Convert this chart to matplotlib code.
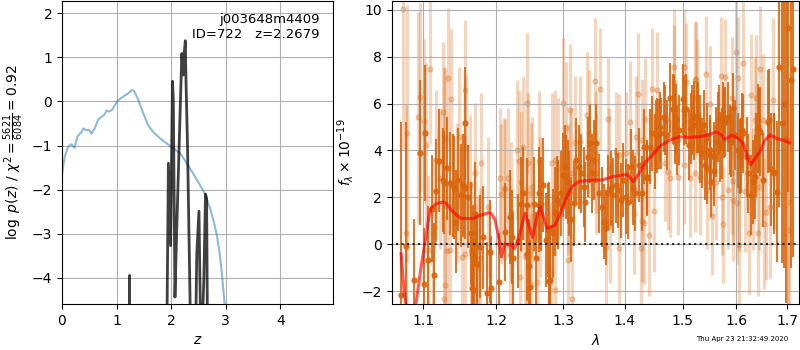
import matplotlib
matplotlib.use('Agg')
import matplotlib.pyplot as pl
import numpy as np

# ---- left panel: redshift fit ----
z_chi = [0.0, 0.05, 0.11, 0.17, 0.23, 0.28, 0.36, 0.39, 0.44, 0.50, 0.54, 0.60, 0.66, 0.72,
         0.77, 0.82, 0.85, 0.91, 0.97, 1.03, 1.12, 1.21, 1.28, 1.32, 1.40, 1.49, 1.58, 1.67,
         1.80, 1.92, 2.04, 2.17, 2.29, 2.41, 2.53, 2.60, 2.66, 2.72, 2.78, 2.84, 2.89, 2.93,
         2.97, 3.01]
chi_scaled = [-1.64, -1.26, -1.03, -0.97, -1.05, -0.80, -0.69, -0.61, -0.65, -0.65, -0.73, -0.61,
              -0.42, -0.35, -0.31, -0.20, -0.23, -0.20, -0.08, 0.03, 0.11, 0.18, 0.26, 0.24, 0.03,
              -0.27, -0.54, -0.69, -0.84, -0.95, -1.07, -1.18, -1.41, -1.65, -1.90, -2.05, -2.24,
              -2.45, -2.72, -3.05, -3.45, -3.90, -4.45, -5.00]

z_pz = [1.200, 1.230, 1.237, 1.244, 1.300, 1.900, 1.925, 1.950, 1.990, 2.025, 2.040, 2.070,
        2.100, 2.196, 2.220, 2.240, 2.260, 2.270, 2.300, 2.360, 2.440, 2.470, 2.510, 2.550,
        2.600, 2.630, 2.650, 2.670, 2.700]
log_pz = [-9.0, -7.0, -3.95, -7.0, -9.0, -9.0, -4.8, -1.40, -3.27, 0.46, 0.03, -4.44,
          -3.00, 1.09, 0.60, 1.09, 1.38, 0.60, -1.00, -5.50, -6.00, -3.45, -2.49, -6.00,
          -4.00, -2.10, -2.20, -6.00, -9.0]

# ---- right panel: 1D spectrum ----
# dark (higher weight) points
wave_a = [1.0710, 1.0778, 1.0882, 1.0960, 1.1013, 1.1026, 1.1066, 1.1111, 1.1137, 1.1165,
          1.1213, 1.1258, 1.1280, 1.1316, 1.1361, 1.1394, 1.1416, 1.1462, 1.1504, 1.1536,
          1.1568, 1.1605, 1.1643, 1.1661, 1.1689, 1.1707, 1.1735, 1.1773, 1.1816, 1.1877,
          1.1911, 1.1933, 1.2040, 1.2127, 1.2200, 1.2234, 1.2322, 1.2363, 1.2395, 1.2446,
          1.2485, 1.2500, 1.2550, 1.2585, 1.2625, 1.2666, 1.2700, 1.2737, 1.2767, 1.2802,
          1.2853, 1.2906, 1.2972, 1.3008, 1.3035, 1.3086, 1.3129, 1.3167, 1.3203, 1.3245,
          1.3289, 1.3326, 1.3352, 1.3396, 1.3433, 1.3460, 1.3486, 1.3519, 1.3574, 1.3616,
          1.3655, 1.3693, 1.3726, 1.3763, 1.3803, 1.3846, 1.3891, 1.3929, 1.3970, 1.4059,
          1.4098, 1.4139, 1.4173, 1.4285, 1.4326, 1.4383, 1.4422, 1.4470, 1.4517, 1.4557,
          1.4597, 1.4622, 1.4680, 1.4720, 1.4780, 1.4826, 1.4857, 1.4897, 1.5005, 1.5054,
          1.5114, 1.5158, 1.5199, 1.5260, 1.5308, 1.5358, 1.5400, 1.5443, 1.5493, 1.5524,
          1.5567, 1.5604, 1.5646, 1.5691, 1.5740, 1.5791, 1.5834, 1.5872, 1.5925, 1.5969,
          1.6035, 1.6078, 1.6132, 1.6227, 1.6275, 1.6324, 1.6375, 1.6422, 1.6467, 1.6520,
          1.6619, 1.6685, 1.6731, 1.6786, 1.6840, 1.6887, 1.7022, 1.7124,
          1.1564, 1.1439, 1.1679, 1.1727, 1.2252, 1.2459, 1.2630, 1.2777, 1.2792, 1.2880,
          1.2916, 1.3040, 1.3087, 1.4012, 1.4239, 1.4376, 1.4530, 1.4577, 1.4665, 1.4841,
          1.4889, 1.4930, 1.5020, 1.5172, 1.5214, 1.5274, 1.5324, 1.5384, 1.5447, 1.5508,
          1.5583, 1.5663, 1.5727, 1.5771, 1.5898, 1.6062, 1.6109, 1.6205, 1.6368, 1.6432,
          1.6630, 1.6730, 1.6930, 1.6980, 1.7070]
flux_a = [-2.18, -0.07, -1.54, 3.90, -1.70, 4.73, -0.66, 1.52, -1.30, 2.28,
          3.56, 2.74, 2.62, 3.24, 2.60, 2.52, 2.42, 2.76, 2.09, 2.52,
          5.18, 2.02, 0.46, -1.85, -1.97, 1.31, -0.85, -0.11, 0.29, -2.10,
          -0.33, -1.85, -1.61, 0.53, 1.17, 0.31, 0.14, 1.71, 2.17, -0.43,
          -0.94, -1.82, 1.71, -0.61, 2.17, 1.71, 2.52, 0.17, 0.60, -1.54,
          0.46, 1.88, 2.17, 2.95, 3.30, 2.66, 1.06, 1.74, 3.59, 3.30,
          3.02, 2.45, 1.81, 3.73, 4.30, 3.02, 3.59, 4.30, 2.17, 1.59,
          0.95, 0.71, 2.19, 2.38, 2.09, 2.52, 2.31, 1.88, 2.74, 1.81,
          3.30, 2.42, 2.17, 2.17, 4.16, 2.85, 4.16, 4.73, 3.94, 4.66,
          5.01, 4.73, 5.30, 4.66, 6.23, 5.76, 4.94, 4.44, 6.18, 5.76,
          4.23, 4.94, 5.47, 5.40, 4.87, 3.88, 3.38, 3.23, 3.80, 2.66,
          3.13, 4.37, 5.01, 4.16, 5.44, 5.23, 5.44, 4.44, 5.80, 4.66,
          4.02, 3.80, 4.73, 3.02, 2.09, 2.66, 3.80, 4.94, 4.80, 2.74,
          5.23, 3.19, 3.02, 2.24, 7.58, 5.18, 9.22, 7.46,
          2.42, 0.95, -0.54, -0.83, -0.61, 1.67, 1.67, -1.57, 0.67, 1.38,
          1.71, 2.88, 2.17, 2.02, 3.38, 2.81, 4.66, 4.70, 5.44, 5.73,
          5.33, 4.87, 5.73, 5.30, 5.09, 5.41, 4.13, 5.09, 4.52, 4.02,
          3.73, 5.30, 4.30, 5.16, 4.37, 3.76, 4.87, 3.73, 2.88, 4.87,
          5.30, 3.09, 6.00, 4.50, 7.00]
err_a = [7.4, 5.3, 2.6, 3.1, 2.4, 2.9, 2.3, 2.3, 2.2, 2.2,
         2.2, 2.2, 2.2, 2.2, 2.2, 2.2, 2.2, 2.2, 2.2, 2.2,
         2.4, 2.2, 2.2, 2.2, 2.2, 2.2, 2.2, 2.2, 2.2, 2.2,
         2.2, 2.2, 2.1, 2.1, 2.0, 2.0, 2.0, 2.0, 2.0, 2.0,
         2.0, 2.0, 2.0, 2.0, 2.0, 2.0, 2.0, 2.0, 2.0, 2.0,
         1.9, 1.9, 1.8, 1.8, 1.8, 1.8, 1.8, 1.8, 1.8, 1.8,
         1.7, 1.7, 1.7, 1.7, 1.7, 1.7, 1.7, 1.7, 1.7, 1.7,
         1.6, 1.6, 1.6, 1.6, 1.6, 1.6, 1.6, 1.6, 1.6, 1.6,
         1.6, 1.6, 1.6, 1.6, 1.6, 1.6, 1.6, 1.6, 1.6, 1.6,
         1.5, 1.5, 1.5, 1.5, 1.5, 1.5, 1.5, 1.5, 1.5, 1.5,
         1.5, 1.5, 1.5, 1.5, 1.5, 1.5, 1.5, 1.5, 1.5, 1.5,
         1.5, 1.5, 1.5, 1.5, 1.5, 1.5, 1.5, 1.5, 1.5, 1.5,
         1.6, 1.6, 1.7, 1.7, 1.7, 1.8, 1.8, 1.9, 1.9, 2.0,
         2.2, 2.4, 2.6, 3.0, 6.0, 6.0, 7.0, 8.0,
         2.2, 2.2, 2.2, 2.2, 2.0, 2.0, 2.0, 2.0, 2.0, 1.9,
         1.9, 1.8, 1.8, 1.6, 1.6, 1.6, 1.5, 1.5, 1.5, 1.5,
         1.5, 1.5, 1.5, 1.5, 1.5, 1.5, 1.5, 1.5, 1.5, 1.5,
         1.5, 1.5, 1.5, 1.5, 1.5, 1.6, 1.6, 1.7, 1.8, 1.8,
         2.2, 2.5, 7.0, 7.0, 8.0]

# pale (lower weight) points
wave_b = [1.0733, 1.0778, 1.0791, 1.0934, 1.0956, 1.1013, 1.1030, 1.1066, 1.1093, 1.1128,
          1.1164, 1.1226, 1.1258, 1.1280, 1.1285, 1.1334, 1.1349, 1.1371, 1.1452, 1.1475,
          1.1522, 1.1559, 1.1581, 1.1629, 1.1651, 1.1699, 1.1745, 1.1792, 1.1886, 1.2054,
          1.2077, 1.2127, 1.2165, 1.2223, 1.2297, 1.2333, 1.2363, 1.2395, 1.2422, 1.2446,
          1.2474, 1.2515, 1.2534, 1.2636, 1.2777, 1.2818, 1.2879, 1.2921, 1.3008, 1.3046,
          1.3077, 1.3113, 1.3120, 1.3149, 1.3192, 1.3273, 1.3380, 1.3406, 1.3500, 1.3584,
          1.3681, 1.3726, 1.3747, 1.3846, 1.3902, 1.3910, 1.4013, 1.4081, 1.4156, 1.4224,
          1.4268, 1.4285, 1.4297, 1.4343, 1.4412, 1.4470, 1.4499, 1.4680, 1.4738, 1.4780,
          1.4839, 1.5018, 1.5054, 1.5126, 1.5218, 1.5249, 1.5260, 1.5321, 1.5432, 1.5440,
          1.5506, 1.5543, 1.5617, 1.5711, 1.5729, 1.5740, 1.5791, 1.5834, 1.5907, 1.5939,
          1.5988, 1.6035, 1.6040, 1.6117, 1.6161, 1.6246, 1.6291, 1.6324, 1.6375, 1.6422,
          1.6453, 1.6520, 1.6530, 1.6571, 1.6651, 1.6719, 1.7022, 1.7030,
          1.4549, 1.4841, 1.5232, 1.5917, 1.6368, 1.4329, 1.4913, 1.5936, 1.6012, 1.6432,
          1.6043, 1.5020, 1.1290, 1.2117, 1.2651, 1.2829, 1.1313, 1.1564, 1.1703, 1.1773,
          1.2204, 1.2459, 1.2601, 1.2880, 1.3071, 1.2510, 1.2351, 1.1276, 1.3529, 1.3736,
          1.4181, 1.3519]
flux_b = [10.03, 0.48, 4.73, 5.41, 6.29, 5.27, 4.23, -0.26, 7.48, 0.46,
          3.59, 2.81, 5.65, 4.56, -1.75, 7.08, -0.23, 6.18, 2.17, 4.56,
          -0.54, 6.58, 4.16, 2.52, -0.29, 3.02, -1.00, 3.45, 1.59, 2.81,
          2.14, 2.34, 2.81, 1.38, 4.02, 3.56, 2.66, 4.16, -0.51, 6.01,
          3.45, 2.17, 2.45, 3.52, -1.61, -1.18, 3.59, 3.23, 6.01, 4.97,
          2.34, 5.73, 3.02, -2.36, 4.37, 4.37, 5.51, 4.73, 6.97, 6.61,
          -0.11, 5.33, 0.95, 3.88, 3.80, -0.18, 3.90, 5.23, 1.34, 6.41,
          -0.18, 1.00, 4.44, 5.33, 0.38, 6.61, 1.42, 3.47, 3.09, 2.81,
          7.55, 7.55, 6.94, 2.81, 3.02, 7.04, 6.25, 2.88, 7.26, 2.31,
          5.98, 1.20, 2.66, 7.18, 2.02, 0.85, 7.12, 2.31, 3.02, 1.88,
          8.22, 7.08, 2.31, 7.75, 2.28, 0.48, 6.37, 2.34, 6.23, 0.48,
          7.46, 5.30, 0.88, 1.38, 1.57, 6.15, 0.60, 1.81,
          6.58, 6.87, 7.00, 6.23, 5.30, 0.91, 2.88, 2.71, 1.77, 2.45,
          -0.04, 3.38, 4.51, 2.38, 1.59, 3.45, -0.29, -0.40, -1.32, -0.61,
          -0.47, -0.54, -1.61, -1.97, -0.68, -1.71, -1.40, -2.36, 3.94, 3.23,
          4.59, 3.02]
err_b = [6.0, 5.5, 5.5, 4.5, 4.0, 3.5, 3.5, 3.2, 3.2, 3.2,
         3.0, 3.0, 3.0, 3.0, 3.0, 3.0, 3.0, 3.0, 3.0, 3.0,
         3.0, 3.0, 3.0, 3.0, 3.0, 3.0, 3.0, 3.0, 3.0, 3.0,
         3.0, 3.0, 3.0, 3.0, 3.0, 3.0, 3.0, 3.0, 3.0, 3.0,
         3.0, 3.0, 3.0, 3.0, 3.0, 3.0, 3.0, 3.0, 2.8, 2.8,
         2.8, 2.8, 2.8, 2.8, 2.8, 2.8, 2.7, 2.7, 2.7, 2.6,
         2.6, 2.6, 2.6, 2.6, 2.6, 2.6, 2.6, 2.6, 2.6, 2.6,
         2.6, 2.6, 2.6, 2.6, 2.6, 2.6, 2.6, 2.5, 2.5, 2.5,
         2.5, 2.5, 2.5, 2.5, 2.5, 2.5, 2.5, 2.5, 2.5, 2.5,
         2.5, 2.5, 2.5, 2.5, 2.5, 2.5, 2.5, 2.5, 2.6, 2.6,
         2.6, 2.6, 2.6, 2.6, 2.6, 2.6, 2.6, 2.6, 2.7, 2.7,
         2.7, 2.8, 2.8, 2.9, 3.0, 3.5, 5.0, 5.0,
         2.5, 2.5, 2.5, 2.6, 2.7, 2.6, 2.5, 2.6, 2.6, 2.7,
         2.6, 2.5, 3.0, 3.0, 3.0, 3.0, 3.0, 3.0, 3.0, 3.0,
         3.0, 3.0, 3.0, 3.0, 2.8, 3.0, 3.0, 3.0, 2.6, 2.6,
         2.6, 2.6]

# best-fit model
wave_model = [1.0710, 1.0748, 1.0800, 1.0860, 1.0904, 1.0969, 1.1013, 1.1066, 1.1102, 1.1167,
              1.1258, 1.1303, 1.1371, 1.1439, 1.1508, 1.1679, 1.1745, 1.1886, 1.1933, 1.1982,
              1.2030, 1.2077, 1.2127, 1.2175, 1.2223, 1.2263, 1.2322, 1.2395, 1.2425, 1.2485,
              1.2534, 1.2600, 1.2650, 1.2700, 1.2752, 1.2828, 1.2879, 1.2956, 1.3061, 1.3140,
              1.3245, 1.3352, 1.3513, 1.3627, 1.3792, 1.3958, 1.4042, 1.4139, 1.4241, 1.4354,
              1.4470, 1.4587, 1.4768, 1.4946, 1.5126, 1.5308, 1.5461, 1.5617, 1.5711, 1.5774,
              1.5869, 1.5907, 1.6035, 1.6132, 1.6210, 1.6275, 1.6359, 1.6457, 1.6556, 1.6656,
              1.6790, 1.6925, 1.7047]
flux_model = [-0.40, -2.00, -3.20, -3.50, -2.50, -0.97, -0.10, 1.05, 1.55, 1.72,
              1.80, 1.75, 1.47, 1.26, 1.10, 1.09, 1.20, 1.34, 1.30, 1.06,
              0.43, -0.54, 0.03, -0.04, 0.00, -0.20, 0.17, 1.03, 1.32, 0.75,
              0.29, 1.17, 1.60, 1.17, 0.68, 0.75, 0.82, 1.32, 2.03, 2.45,
              2.67, 2.71, 2.74, 2.74, 2.88, 2.95, 2.98, 2.67, 3.02, 3.52,
              3.80, 4.16, 4.44, 4.59, 4.56, 4.59, 4.66, 4.80, 4.66, 4.47,
              4.59, 4.66, 4.51, 4.30, 3.73, 3.38, 3.66, 3.95, 4.44, 4.66,
              4.51, 4.44, 4.33]

orange = '#d9650c'

fig = pl.figure(figsize=(8, 3.5), dpi=100)

ax = fig.add_axes([0.0775, 0.131, 0.339, 0.866])
ax.plot(z_chi, chi_scaled, color='tab:blue', alpha=0.5, lw=1.5)
ax.plot(z_pz, log_pz, color='k', alpha=0.75, lw=2)
ax.set_xlim(0, 4.97)
ax.set_ylim(-4.6, 2.28)
ax.set_xticks([0, 1, 2, 3, 4])
ax.grid()
ax.set_xlabel(r'$z$')
ax.set_ylabel(r'$\log\ p(z)$ / $\chi^2=\frac{5621}{6084}=0.92$')
ax.text(0.95, 0.96, 'j003648m4409\nID=722   z=2.2679', ha='right', va='top',
        transform=ax.transAxes, fontsize=9.5)

ax2 = fig.add_axes([0.4896, 0.131, 0.5095, 0.866])
ax2.errorbar(wave_b, flux_b, yerr=err_b, fmt='o', color=orange, alpha=0.27,
             ms=3.5, elinewidth=2.3, zorder=1)
ax2.errorbar(wave_a, flux_a, yerr=err_a, fmt='o', color=orange, alpha=0.88,
             ms=3.5, elinewidth=1.5, zorder=2)
ax2.plot([1.05, 1.75], [0, 0], color='k', linestyle=':', lw=1.5, alpha=0.8, zorder=3)
ax2.plot(wave_model, flux_model, color='r', alpha=0.65, lw=2.2, zorder=4)
ax2.set_xscale('log')
ax2.xaxis.set_major_locator(pl.FixedLocator([1.1, 1.2, 1.3, 1.4, 1.5, 1.6, 1.7]))
ax2.xaxis.set_major_formatter(pl.FixedFormatter(['1.1', '1.2', '1.3', '1.4', '1.5', '1.6', '1.7']))
ax2.xaxis.set_minor_locator(pl.NullLocator())
ax2.set_xlim(1.059, 1.725)
ax2.set_ylim(-2.56, 10.38)
ax2.grid()
ax2.set_xlabel(r'$\lambda$')
ax2.set_ylabel(r'$f_\lambda\times10^{-19}$')

fig.text(0.986, 0.031, 'Thu Apr 23 21:32:49 2020', ha='right', va='center', fontsize=5)

fig.savefig('out.png', dpi=100)
